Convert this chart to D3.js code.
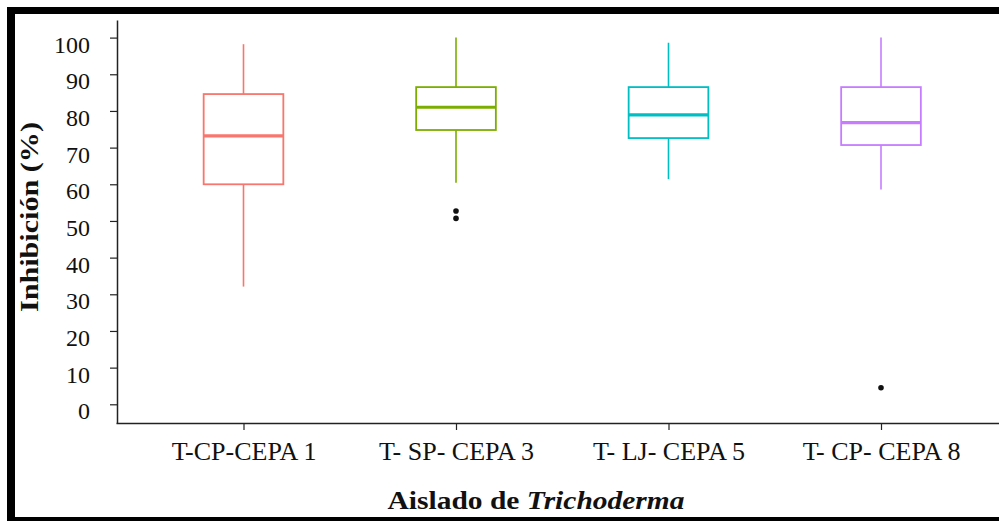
<!DOCTYPE html>
<html><head><meta charset="utf-8">
<script src="https://cdn.jsdelivr.net/npm/d3@7"></script>
<style>html,body{margin:0;padding:0;background:#fff;}svg{display:block;}</style>
</head><body>
<svg id="chart" width="999" height="521"></svg>
<script>
const categories = ["T-CP-CEPA 1", "T- SP- CEPA 3", "T- LJ- CEPA 5", "T- CP- CEPA 8"];
const whiskerLow  = [32.1, 60.4, 61.4, 58.6];
const q1Values    = [60.0, 74.8, 72.6, 70.7];
const medians     = [73.2, 81.0, 78.9, 76.8];
const q3Values    = [84.6, 86.5, 86.5, 86.5];
const whiskerHigh = [98.2, 100.0, 98.6, 100.0];
const outliers    = [[], [52.7, 50.7], [], [4.5]];
const colors      = ["#F8766D", "#7CAE00", "#00BFC4", "#C77CFF"];
const yTicks      = [0, 10, 20, 30, 40, 50, 60, 70, 80, 90, 100];

const svg = d3.select("#chart");
const x = d3.scaleLinear().domain([0.4, 4.6]).range([116, 1008.5]);
const y = d3.scaleLinear().domain([-5.1, 104.8]).range([423, 20]);
const boxW = x(1.375) - x(1);

const font = "'Liberation Serif','Times New Roman',serif";

// frame
svg.append("rect").attr("x", 7).attr("y", 7).attr("width", 1000).attr("height", 7).attr("fill", "#000");
svg.append("rect").attr("x", 7).attr("y", 7).attr("width", 8).attr("height", 520).attr("fill", "#000");
svg.append("rect").attr("x", 7).attr("y", 517).attr("width", 1000).attr("height", 5).attr("fill", "#000");

const data = categories.map((c, i) => ({
  c, i, lo: whiskerLow[i], q1: q1Values[i], med: medians[i], q3: q3Values[i], hi: whiskerHigh[i],
  out: outliers[i], col: colors[i]
}));

const g = svg.append("g");
data.forEach(d => {
  const cx = x(d.i + 1);
  const gg = g.append("g");
  gg.append("line").attr("x1", cx).attr("x2", cx).attr("y1", y(d.hi)).attr("y2", y(d.q3))
    .attr("stroke", d.col).attr("stroke-width", 1.6);
  gg.append("line").attr("x1", cx).attr("x2", cx).attr("y1", y(d.q1)).attr("y2", y(d.lo))
    .attr("stroke", d.col).attr("stroke-width", 1.6);
  gg.append("rect").attr("x", cx - boxW / 2).attr("y", y(d.q3))
    .attr("width", boxW).attr("height", y(d.q1) - y(d.q3))
    .attr("fill", "#fff").attr("stroke", d.col).attr("stroke-width", 1.8);
  gg.append("line").attr("x1", cx - boxW / 2).attr("x2", cx + boxW / 2)
    .attr("y1", y(d.med)).attr("y2", y(d.med))
    .attr("stroke", d.col).attr("stroke-width", 3.2);
  d.out.forEach(o => {
    gg.append("circle").attr("cx", cx).attr("cy", y(o)).attr("r", 2.8).attr("fill", "#111");
  });
});

// y axis
const yAxis = svg.append("g").attr("transform", "translate(117,0)")
  .call(d3.axisLeft(y).tickValues(yTicks).tickSize(7).tickSizeOuter(0).tickPadding(20));
yAxis.select(".domain").attr("stroke", "#222").attr("stroke-width", 1.5);
yAxis.selectAll(".tick line").attr("stroke", "#222").attr("stroke-width", 1.2);
yAxis.selectAll(".tick text").attr("font-family", font).attr("font-size", 24)
  .attr("fill", "#111").attr("dy", "0.6em");

// x axis
const xAxis = svg.append("g").attr("transform", "translate(0,423)")
  .call(d3.axisBottom(x).tickValues([1, 2, 3, 4]).tickFormat(v => categories[v - 1])
    .tickSize(7).tickSizeOuter(0).tickPadding(12));
xAxis.select(".domain").attr("stroke", "#222").attr("stroke-width", 1.5);
xAxis.selectAll(".tick line").attr("stroke", "#222").attr("stroke-width", 1.2);
xAxis.selectAll(".tick text").attr("font-family", font).attr("font-size", 26).attr("fill", "#111")
  .attr("y", 37).attr("dy", null);

// y-axis title
svg.append("text").attr("transform", "translate(38,217) rotate(-90)")
  .attr("text-anchor", "middle").attr("font-family", font).attr("font-weight", "bold")
  .attr("font-size", 25).attr("fill", "#111")
  .attr("textLength", 190).attr("lengthAdjust", "spacingAndGlyphs")
  .text("Inhibición (%)");

// x-axis title
const xt = svg.append("text").attr("x", 536).attr("y", 509)
  .attr("text-anchor", "middle").attr("font-family", font).attr("font-weight", "bold")
  .attr("font-size", 25).attr("fill", "#111")
  .attr("textLength", 297).attr("lengthAdjust", "spacingAndGlyphs");
xt.append("tspan").text("Aislado de ");
xt.append("tspan").attr("font-style", "italic").text("Trichoderma");
</script>
</body></html>
